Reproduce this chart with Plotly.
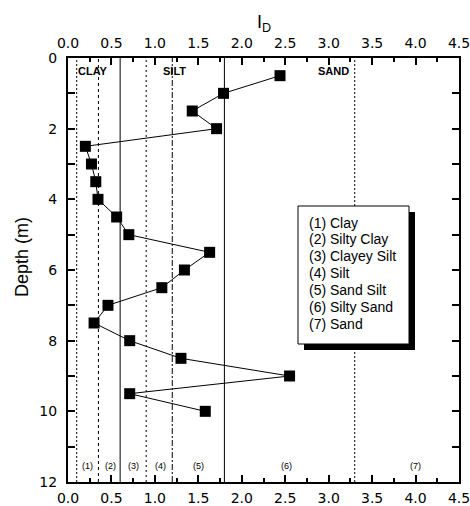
import plotly.graph_objects as go

# Data
depth = [0.5, 1.0, 1.5, 2.0, 2.5, 3.0, 3.5, 4.0, 4.5, 5.0, 5.5, 6.0, 6.5, 7.0, 7.5, 8.0, 8.5, 9.0, 9.5, 10.0]
i_d = [2.44, 1.79, 1.43, 1.71, 0.20, 0.27, 0.32, 0.345, 0.56, 0.70, 1.63, 1.34, 1.08, 0.46, 0.30, 0.71, 1.30, 2.55, 0.71, 1.58]

boundaries = [0.1, 0.35, 0.6, 0.9, 1.2, 1.8, 3.3]
boundary_dash = ["2px,2px", "3px,3px", "solid", "2px,3px", "6px,2px,2px,2px", "solid", "2px,2px"]

zone_labels = ["(1)", "(2)", "(3)", "(4)", "(5)", "(6)", "(7)"]
zone_x = [0.23, 0.49, 0.75, 1.06, 1.50, 2.52, 4.0]
zone_depth = 11.55

group_labels = ["CLAY", "SILT", "SAND"]
group_x = [0.29, 1.22, 3.05]
group_depth = 0.38

legend_lines = ["(1) Clay", "(2) Silty Clay", "(3) Clayey Silt", "(4) Silt",
                "(5) Sand Silt", "(6) Silty Sand", "(7) Sand"]

x_ticks = [0.0, 0.5, 1.0, 1.5, 2.0, 2.5, 3.0, 3.5, 4.0, 4.5]
y_ticks = [0, 2, 4, 6, 8, 10, 12]

FONT = "Arial, Liberation Sans, sans-serif"
TICKFONT = "DejaVu Sans, sans-serif"

W, H = 470, 506
L, R, T, B = 68, 11, 58, 24
PW, PH = W - L - R, H - T - B


def px_x(px):
    return (px - L) / PW


def px_y(py):
    return (H - B - py) / PH


fig = go.Figure()
fig.add_trace(go.Scatter(
    x=i_d, y=depth, mode="lines+markers",
    line=dict(color="black", width=1),
    marker=dict(symbol="square", size=11, color="black"),
    showlegend=False, cliponaxis=False))
# invisible trace for top axis
fig.add_trace(go.Scatter(x=[0, 4.5], y=[0, 0], xaxis="x2", mode="markers",
                         marker=dict(opacity=0), showlegend=False, hoverinfo="skip"))

shapes = []
for b, d in zip(boundaries, boundary_dash):
    shapes.append(dict(type="line", xref="x", yref="paper", x0=b, x1=b, y0=0, y1=1,
                       line=dict(color="black", width=1, dash=d), layer="below"))

# legend box with shadow
bx0, bx1, by0, by1 = px_x(298), px_x(409), px_y(344), px_y(206)
sdx, sdy = 6 / PW, 6 / PH
shapes.append(dict(type="rect", xref="paper", yref="paper",
                   x0=bx0 + sdx, x1=bx1 + sdx, y0=by0 - sdy, y1=by1 - sdy,
                   fillcolor="black", line=dict(width=0), layer="above"))
shapes.append(dict(type="rect", xref="paper", yref="paper",
                   x0=bx0, x1=bx1, y0=by0, y1=by1,
                   fillcolor="white", line=dict(color="black", width=1), layer="above"))

annotations = []
for lab, x in zip(group_labels, group_x):
    annotations.append(dict(x=x, y=group_depth, xref="x", yref="y", text="<b>" + lab + "</b>",
                            showarrow=False, font=dict(size=11, family=FONT, color="black")))
for lab, x in zip(zone_labels, zone_x):
    annotations.append(dict(x=x, y=zone_depth, xref="x", yref="y", text=lab,
                            showarrow=False, font=dict(size=9, family=FONT, color="black")))
for i, line in enumerate(legend_lines):
    annotations.append(dict(x=px_x(307), y=px_y(222.5 + 16.85 * i), xref="paper", yref="paper",
                            xanchor="left", yanchor="middle", text=line, showarrow=False,
                            font=dict(size=14, family=FONT, color="black")))
annotations.append(dict(x=px_x(22), y=px_y(257), xref="paper", yref="paper", textangle=-90,
                        xanchor="center", yanchor="middle", text="Depth (m)", showarrow=False,
                        font=dict(size=18, family=FONT, color="black")))
annotations.append(dict(x=px_x(264), y=px_y(24), xref="paper", yref="paper",
                        xanchor="center", yanchor="middle", text="I<sub>D</sub>", showarrow=False,
                        font=dict(size=18, family=FONT, color="black")))

axis_common = dict(
    showgrid=False, zeroline=False, showline=True, linecolor="black", linewidth=2,
    ticks="inside", ticklen=7, tickwidth=1.5, tickcolor="black", automargin=False,
    ticklabeloverflow="allow",
    tickfont=dict(size=14, family=TICKFONT, color="black"),
)

fig.update_layout(
    width=W, height=H,
    margin=dict(l=L, r=R, t=T, b=B, autoexpand=False),
    paper_bgcolor="white", plot_bgcolor="white",
    shapes=shapes, annotations=annotations,
    xaxis=dict(range=[0, 4.5], tickvals=x_ticks, ticktext=[f"{v:.1f}" for v in x_ticks],
               minor=dict(dtick=0.25, ticks="inside", ticklen=4, tickcolor="black"),
               ticklabelstandoff=2, **axis_common),
    xaxis2=dict(range=[0, 4.5], overlaying="x", side="top", anchor="y",
                tickvals=x_ticks, ticktext=[f"{v:.1f}" for v in x_ticks],
                minor=dict(dtick=0.25, ticks="inside", ticklen=4, tickcolor="black"),
                ticklabelstandoff=2, **axis_common),
    yaxis=dict(range=[12, 0], tickvals=y_ticks,
               minor=dict(dtick=1, ticks="inside", ticklen=4, tickcolor="black"),
               mirror="allticks", ticklabelstandoff=6,
               **axis_common),
)

fig.write_html("out.html", config={"displayModeBar": False},
               post_script="document.body.style.margin='0';document.body.style.overflow='hidden';")
